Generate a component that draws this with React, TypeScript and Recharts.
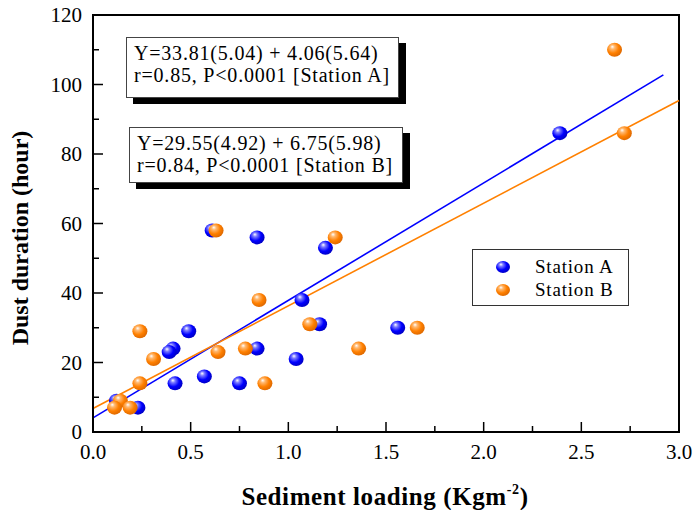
import {
  ScatterChart,
  Scatter,
  XAxis,
  YAxis,
  ReferenceLine,
  ReferenceArea,
} from "recharts";

// sediment loading (Kg m-2) and dust duration (hour)
const loadA = [0.61, 0.84, 1.19, 1.07, 1.16, 0.49, 0.41, 0.39, 0.84, 1.04, 0.57, 0.42, 0.75, 0.23, 0.12, 1.56, 2.39];
const durationA = [58, 56, 53, 38, 31, 29, 24, 23, 24, 21, 16, 14, 14, 7, 9, 30, 86];

const loadB = [0.63, 1.24, 0.85, 1.11, 0.24, 0.31, 0.64, 0.78, 1.36, 0.24, 0.88, 0.14, 0.11, 0.19, 1.66, 2.67, 2.72];
const durationB = [58, 56, 38, 31, 29, 21, 23, 24, 24, 14, 14, 9, 7, 7, 30, 110, 86];

const seriesNames = ["Station A", "Station B"];
const seriesColors = ["#0000ff", "#ff8000"];

// regression: Y = slope * X + intercept
const fitA = { slope: 33.81, intercept: 4.06 };
const fitB = { slope: 29.55, intercept: 6.75 };
const fitRangeA = [0, 2.92];
const fitRangeB = [0, 3.0];

const equationA = ["Y=33.81(5.04) + 4.06(5.64)", "r=0.85, P<0.0001 [Station A]"];
const equationB = ["Y=29.55(4.92) + 6.75(5.98)", "r=0.84, P<0.0001 [Station B]"];

const xTicks = [0, 0.25, 0.5, 0.75, 1, 1.25, 1.5, 1.75, 2, 2.25, 2.5, 2.75, 3];
const yTicks = [0, 10, 20, 30, 40, 50, 60, 70, 80, 90, 100, 110, 120];

const FONT = '"Liberation Serif", "Times New Roman", serif';

const dataA = loadA.map((x, i) => ({ x, y: durationA[i] }));
const dataB = loadB.map((x, i) => ({ x, y: durationB[i] }));

const segment = (fit: { slope: number; intercept: number }, range: number[]) =>
  range.map((x) => ({ x, y: fit.intercept + fit.slope * x }));

function XTick(props: any) {
  const { x, y, payload } = props;
  const v = payload.value;
  const major = Math.abs(v * 2 - Math.round(v * 2)) < 1e-6;
  return (
    <g>
      <line x1={x} x2={x} y1={y} y2={y - (major ? 10 : 6)} stroke="#000" strokeWidth={1.5} />
      {major && (
        <text x={x} y={y + 27} textAnchor="middle" fontFamily={FONT} fontSize={21} fill="#000">
          {v.toFixed(1)}
        </text>
      )}
    </g>
  );
}

function YTick(props: any) {
  const { x, y, payload } = props;
  const v = payload.value;
  const major = v % 20 === 0;
  return (
    <g>
      <line x1={x} x2={x + (major ? 10 : 6)} y1={y} y2={y} stroke="#000" strokeWidth={1.5} />
      {major && (
        <text x={x - 11} y={y + 7} textAnchor="end" fontFamily={FONT} fontSize={21} fill="#000">
          {v}
        </text>
      )}
    </g>
  );
}

const ball = (grad: string) => (props: any) => {
  const { cx, cy } = props;
  return <ellipse cx={cx} cy={cy} rx={7.5} ry={7} fill={`url(#${grad})`} />;
};

function LegendBox() {
  return (
    <div
      style={{
        position: "absolute",
        left: 472,
        top: 249,
        width: 157,
        height: 57,
        border: "1px solid #333",
        background: "#fff",
        fontFamily: FONT,
        fontSize: 19,
        letterSpacing: 0.8,
        paddingTop: 5,
        boxSizing: "border-box",
      }}
    >
      {seriesNames.map((name, i) => (
        <div key={name} style={{ display: "flex", alignItems: "center", height: 23 }}>
          <svg width={60} height={20}>
            <ellipse cx={30} cy={10} rx={7} ry={6} fill={`url(#ball${i})`} />
          </svg>
          <span style={{ marginLeft: 2 }}>{name}</span>
        </div>
      ))}
    </div>
  );
}

function EquationBox({ lines, left, top, width, height }: any) {
  return (
    <div
      style={{
        position: "absolute",
        left,
        top,
        width,
        height,
        boxSizing: "border-box",
        border: "1px solid #444",
        background: "#fff",
        boxShadow: "7px 6px 0 #000",
        fontFamily: FONT,
        fontSize: 20,
        letterSpacing: 0.8,
        lineHeight: "22px",
        padding: "4px 0 0 7px",
        whiteSpace: "nowrap",
      }}
    >
      {lines.map((l: string) => (
        <div key={l}>{l}</div>
      ))}
    </div>
  );
}

export default function App() {
  return (
    <div style={{ position: "absolute", left: 0, top: 0, width: 694, height: 510, background: "#fff" }}>
      <ScatterChart width={694} height={510} margin={{ top: 15, right: 15, left: 0, bottom: 0 }}>
        <defs>
          {seriesColors.map((c, i) => (
            <radialGradient key={c} id={`ball${i}`} cx="40%" cy="40%" r="60%" fx="35%" fy="28%">
              <stop offset="0%" stopColor="#ffffff" />
              <stop offset="25%" stopColor={i === 0 ? "#7a7aff" : "#ffb870"} />
              <stop offset="65%" stopColor={c} />
              <stop offset="100%" stopColor={i === 0 ? "#0000c8" : "#e06a00"} />
            </radialGradient>
          ))}
        </defs>
        <XAxis
          type="number"
          dataKey="x"
          domain={[0, 3]}
          ticks={xTicks}
          interval={0}
          height={78}
          tickSize={0}
          tickMargin={0}
          tickLine={false}
          tick={<XTick />}
          axisLine={{ stroke: "#000", strokeWidth: 2 }}
          allowDataOverflow
        />
        <YAxis
          type="number"
          dataKey="y"
          domain={[0, 120]}
          ticks={yTicks}
          interval={0}
          width={93}
          tickSize={0}
          tickMargin={0}
          tickLine={false}
          tick={<YTick />}
          axisLine={{ stroke: "#000", strokeWidth: 2 }}
          allowDataOverflow
        />
        <ReferenceArea x1={0} x2={3} y1={0} y2={120} fill="none" stroke="#000" strokeWidth={2} />
        <ReferenceLine segment={segment(fitA, fitRangeA)} stroke={seriesColors[0]} strokeWidth={1.6} />
        <ReferenceLine segment={segment(fitB, fitRangeB)} stroke={seriesColors[1]} strokeWidth={1.6} />
        <Scatter name={seriesNames[0]} data={dataA} fill={seriesColors[0]} shape={ball("ball0")} isAnimationActive={false} />
        <Scatter name={seriesNames[1]} data={dataB} fill={seriesColors[1]} shape={ball("ball1")} isAnimationActive={false} />
      </ScatterChart>
      <LegendBox />
      <EquationBox lines={equationA} left={126} top={37} width={273} height={61} />
      <EquationBox lines={equationB} left={129} top={127} width={274} height={56} />
      <svg
        width={694}
        height={510}
        style={{ position: "absolute", left: 0, top: 0, pointerEvents: "none" }}
      >
        <text
          transform="translate(28, 238) rotate(-90)"
          textAnchor="middle"
          fontFamily={FONT}
          fontWeight="bold"
          fontSize={24}
          fill="#000"
        >
          Dust duration (hour)
        </text>
        <text x={385} y={505} textAnchor="middle" fontFamily={FONT} fontWeight="bold" fontSize={25} letterSpacing={0.6} fill="#000">
          Sediment loading (Kgm
          <tspan fontSize={14} dy={-11}>-2</tspan>
          <tspan dy={11}>)</tspan>
        </text>
      </svg>
    </div>
  );
}
